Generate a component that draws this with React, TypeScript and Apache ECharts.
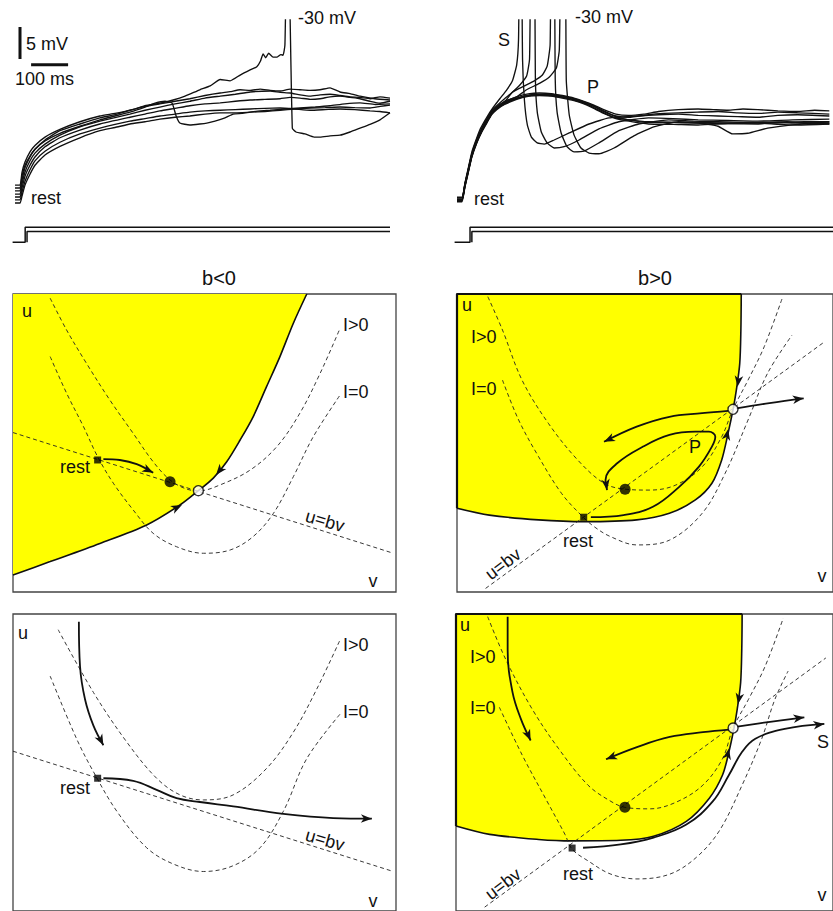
import React, { useEffect, useRef } from "react";
import * as echarts from "echarts";

// ===================== TOP TRACES (time ms, membrane potential mV) =====================
// Left: b<0 (integrator)
const leftTrace1 = [[-13.5,-55.8],[0,-55.8],[5.4,-53.8],[13.5,-52.2],[27,-50.6],[40.5,-49.6],[67.6,-48.3],[108,-47.1],[162,-45.9],[216,-45.0],[257,-44.6],[305,-44.0],[338,-43.4],[378,-43.0],[414,-42.5],[446,-41.9],[486,-40.9],[514,-40.3],[541,-39.3],[568,-39.5],[595,-38.6],[622,-37.8],[640,-37.3],[650,-36.4],[657,-35.3],[664,-35.9],[672,-35.2],[684,-35.8],[695,-35.8],[705,-35.4],[711,-35.5],[716,-33.9],[721,-20],[726,-20],[736,-46.9],[746,-47.5],[770,-47.8],[795,-48.3],[811,-48.3],[838,-48.1],[865,-48.0],[892,-47.5],[919,-46.9],[946,-46.3],[973,-45.6],[1000,-44.5]];
const leftTrace2 = [[-13.5,-56.25],[0,-56.25],[5.4,-54.4],[13.5,-52.7],[27,-51.25],[40.5,-50.2],[67.6,-48.9],[108,-47.7],[162,-46.6],[216,-45.6],[257,-45.0],[297,-44.4],[338,-43.6],[365,-43.0],[392,-42.7],[411,-43.0],[422,-45.0],[432,-46.1],[459,-46.4],[486,-46.25],[505,-46.1],[527,-45.8],[554,-45.3],[576,-44.7],[600,-44.6],[622,-44.4],[649,-44.2],[676,-44.1],[716,-43.9],[757,-43.75],[798,-43.6],[838,-43.4],[878,-43.1],[919,-42.95],[960,-43.2],[1000,-43.1]];
const leftTrace3 = [[-13.5,-56.7],[0,-56.7],[5.4,-55.0],[13.5,-53.1],[27,-51.4],[40.5,-50.2],[67.6,-48.75],[108,-47.3],[162,-46.25],[216,-45.3],[257,-44.8],[297,-44.1],[338,-43.5],[378,-43.1],[419,-42.7],[459,-42.3],[500,-41.8],[541,-41.4],[568,-41.2],[595,-40.9],[622,-41.0],[649,-40.8],[676,-41.0],[703,-41.1],[730,-40.8],[757,-40.9],[784,-41.0],[811,-40.9],[838,-40.6],[865,-41.25],[892,-41.5],[919,-41.9],[959,-42.3],[1000,-42.5]];
const leftTrace4 = [[-13.5,-57.2],[0,-57.2],[5.4,-55.6],[13.5,-53.75],[27,-52.0],[40.5,-50.8],[67.6,-49.4],[108,-48.0],[162,-46.7],[216,-45.8],[297,-44.7],[338,-44.1],[378,-43.6],[419,-43.1],[459,-42.7],[500,-42.2],[541,-41.9],[582,-41.6],[622,-41.25],[676,-41.1],[703,-41.3],[730,-41.4],[757,-41.7],[784,-41.9],[811,-41.7],[838,-41.6],[865,-41.8],[892,-42.0],[919,-42.1],[946,-42.3],[973,-42.0],[1000,-42.2]];
const leftTrace5 = [[-13.5,-57.65],[0,-57.65],[5.4,-56.25],[13.5,-54.4],[27,-52.7],[40.5,-51.4],[67.6,-49.8],[108,-48.4],[162,-47.2],[216,-46.25],[297,-45.2],[338,-44.7],[378,-44.2],[419,-43.8],[459,-43.4],[500,-43.1],[541,-42.95],[582,-42.7],[622,-42.5],[662,-42.4],[703,-42.3],[730,-42.1],[757,-42.2],[784,-42.4],[811,-42.3],[838,-42.0],[865,-41.9],[892,-42.1],[919,-42.3],[946,-42.7],[973,-43.0],[1000,-42.7]];
const leftTrace6 = [[-13.5,-58.1],[0,-58.1],[5.4,-56.9],[13.5,-55.2],[27,-53.4],[40.5,-52.0],[67.6,-50.5],[108,-49.1],[162,-47.8],[216,-46.9],[257,-46.3],[297,-45.8],[338,-45.4],[378,-45.0],[419,-44.7],[459,-44.4],[500,-44.2],[541,-44.1],[582,-44.0],[622,-43.9],[662,-43.8],[703,-43.75],[743,-43.9],[784,-44.1],[825,-44.0],[865,-43.9],[905,-44.0],[946,-44.2],[973,-44.3],[1000,-44.5]];
const leftTrace7 = [[-13.5,-58.6],[0,-58.6],[5.4,-57.5],[13.5,-55.8],[27,-54.1],[40.5,-52.7],[67.6,-51.1],[108,-49.75],[162,-48.4],[216,-47.3],[257,-46.8],[297,-46.25],[338,-45.9],[378,-45.5],[419,-45.2],[459,-45.0],[500,-44.7],[541,-44.5],[582,-44.5],[622,-44.4],[662,-44.3],[703,-44.1],[743,-43.9],[784,-43.75],[825,-43.7],[865,-43.6],[905,-43.7],[946,-43.75],[973,-43.5],[1000,-43.3]];

// Right: b>0 (resonator)
const rightSpike1 = [[-13.5,-58.1],[0,-58.1],[8.1,-55.5],[16.2,-53.4],[27,-50.6],[40.5,-48.4],[51,-46.9],[67.6,-45.2],[84,-43.75],[103,-42.3],[122,-40.9],[138,-39.4],[149,-37.0],[154,-33.1],[157,-20],[162,-20],[165,-36.25],[170,-42.5],[178,-46.4],[189,-48.3],[205,-49.2],[224,-49.4],[251,-48.75],[292,-47.65],[346,-46.25],[400,-45.3],[481,-45.0],[535,-44.8],[589,-44.7],[643,-44.9],[697,-45.0],[751,-45.1],[805,-45.2],[860,-44.9],[914,-44.8],[1000,-45.0]];
const rightSpike2 = [[-13.5,-58.0],[0,-58.0],[8.1,-55.6],[16.2,-53.6],[27,-50.9],[40.5,-48.6],[54,-46.9],[67.6,-45.5],[81,-44.2],[94.6,-43.4],[116,-42.3],[138,-41.25],[157,-40.2],[176,-38.75],[184,-36.1],[188,-20],[197,-20],[200,-39.4],[205,-44.4],[216,-47.5],[232,-49.2],[251,-50.0],[278,-49.8],[319,-48.75],[373,-47.0],[427,-45.9],[508,-45.3],[575,-45.4],[643,-45.6],[724,-45.7],[805,-45.8],[900,-45.6],[1000,-45.5]];
const rightSpike3 = [[-13.5,-58.2],[0,-58.2],[8.1,-55.9],[16.2,-53.9],[27,-51.25],[40.5,-49.0],[54,-47.3],[67.6,-45.9],[81,-44.6],[94.6,-43.75],[116,-42.8],[138,-41.25],[170,-40.3],[197,-39.5],[219,-38.6],[232,-37.2],[240,-33.9],[243,-20],[251,-20],[254,-39.4],[259,-44.4],[270,-47.65],[286,-49.8],[305,-50.6],[332,-50.5],[373,-49.2],[427,-47.3],[481,-46.25],[562,-45.6],[630,-45.8],[697,-45.9],[780,-46.0],[859,-46.1],[930,-45.9],[1000,-45.9]];
const rightSpike4 = [[-13.5,-58.0],[0,-58.0],[8.1,-55.7],[16.2,-53.7],[27,-51.0],[40.5,-48.8],[54,-47.1],[67.6,-45.6],[81,-44.4],[94.6,-43.6],[116,-42.7],[149,-42.0],[176,-40.9],[211,-39.9],[238,-38.9],[257,-37.5],[265,-34.7],[270,-20],[281,-20],[284,-39.4],[292,-44.8],[305,-47.95],[324,-50.0],[346,-50.8],[373,-50.9],[414,-50.0],[468,-48.1],[522,-46.7],[589,-45.9],[660,-46.0],[724,-46.1],[805,-46.0],[886,-45.9],[950,-46.1],[1000,-46.25]];
const rightSub1 = [[-13.5,-57.7],[0,-57.7],[8.1,-55.7],[16.2,-53.6],[27,-51.0],[40.5,-48.8],[54,-47.1],[67.6,-45.7],[81,-44.4],[94.6,-43.6],[116,-42.8],[149,-42.0],[184,-41.5],[211,-41.4],[243,-41.5],[273,-41.8],[305,-42.2],[332,-42.7],[359,-43.3],[386,-44.0],[419,-44.7],[454,-44.9],[495,-44.7],[535,-44.3],[589,-44.0],[643,-43.9],[684,-44.0],[724,-44.1],[765,-43.9],[805,-44.0],[860,-44.2],[914,-44.3],[960,-44.1],[1000,-44.2]];
const rightSub2 = [[-13.5,-58.1],[0,-58.1],[8.1,-55.9],[16.2,-53.8],[27,-51.2],[40.5,-49.0],[54,-47.3],[67.6,-45.9],[81,-44.6],[94.6,-43.8],[116,-43.0],[149,-42.3],[184,-41.8],[211,-41.7],[243,-41.8],[273,-42.0],[305,-42.4],[332,-42.9],[359,-43.5],[386,-44.3],[419,-45.0],[454,-45.2],[508,-44.8],[550,-44.6],[589,-44.5],[640,-44.4],[697,-44.3],[750,-44.5],[805,-44.6],[860,-44.4],[914,-44.5],[1000,-44.7]];
const rightSub3 = [[-13.5,-58.2],[0,-58.2],[8.1,-56.0],[16.2,-54.0],[27,-51.3],[40.5,-49.1],[54,-47.4],[67.6,-46.0],[81,-44.7],[94.6,-43.9],[116,-43.1],[149,-42.3],[184,-41.8],[211,-41.7],[243,-41.8],[273,-42.1],[305,-42.5],[332,-43.0],[359,-43.7],[386,-44.5],[419,-45.3],[454,-45.6],[508,-45.9],[575,-46.0],[643,-46.1],[724,-46.2],[805,-46.25],[860,-46.0],[914,-46.1],[1000,-46.1]];
const rightSub4 = [[-13.5,-58.0],[0,-58.0],[8.1,-55.8],[16.2,-53.8],[27,-51.1],[40.5,-48.9],[54,-47.2],[67.6,-45.8],[81,-44.5],[94.6,-43.7],[116,-42.9],[149,-42.2],[184,-41.7],[211,-41.6],[243,-41.6],[273,-41.9],[305,-42.3],[332,-42.8],[359,-43.4],[386,-44.2],[419,-45.1],[454,-45.6],[508,-46.0],[575,-46.0],[643,-46.1],[697,-46.6],[737,-47.8],[778,-47.7],[832,-46.9],[914,-46.3],[1000,-45.9]];
const rightSub5 = [[-13.5,-58.4],[0,-58.4],[8.1,-56.1],[16.2,-54.1],[27,-51.4],[40.5,-49.2],[54,-47.5],[67.6,-46.1],[81,-44.8],[94.6,-44.0],[116,-43.2],[149,-42.4],[184,-41.9],[211,-41.8],[243,-41.9],[273,-42.2],[305,-42.6],[332,-43.1],[359,-43.8],[386,-44.6],[419,-45.4],[454,-45.8],[508,-46.25],[575,-46.3],[643,-46.4],[724,-46.2],[805,-46.1],[860,-46.3],[914,-46.4],[1000,-46.25]];

// scale bars (ms, mV)
const scaleBar5mV = [[0,-31.1],[0,-36.1]];
const scaleBar100ms = [[30,-37.0],[130,-37.0]];

// injected current steps (ms, normalised current)
const leftStepOuter = [[-20,0],[14,0],[14,1],[1000,1]];
const leftStepInner = [[19,0],[19,0.72],[1000,0.72]];
const rightStepOuter = [[-20,0],[22,0],[22,1],[1010,1]];
const rightStepInner = [[27,0],[27,0.72],[1010,0.72]];

// ===================== PHASE PLANES (v, u in normalised units 0..100) =====================
// Panel A: b<0, I>0 (top left)
const aBoundary = [[0,5.7],[9.7,10.2],[22.7,16.3],[34.9,22.5],[43.6,29.2],[48.4,34.0],[52.3,38.2],[55.8,43.7],[59.3,51.0],[62.7,58.8],[66.2,68.9],[69.7,79.0],[73.2,90.2],[76.7,100]];
const aNullIpos = [[9.7,98.6],[14.0,87.9],[19.2,76.7],[25.3,64.4],[31.4,53.2],[36.6,43.7],[41.0,37.6],[45.4,34.5],[48.8,34.0],[54.0,35.9],[61.9,40.9],[68.9,48.8],[74.9,60.0],[80.2,73.4],[85.4,88.5]];
const aNullI0 = [[9.7,79.0],[14.0,66.7],[18.4,55.5],[22.1,45.4],[26.2,36.5],[31.4,27.5],[36.6,19.7],[42.7,15.2],[49.7,13.0],[56.7,14.1],[62.7,18.6],[68.0,26.4],[73.2,38.7],[78.4,52.1],[85.4,66.1]];
const aUbv = [[0,53.5],[99.3,13.0]];
const aRestTraj = [[23.6,44.6],[27.9,44.3],[32.3,42.9],[36.6,40.0]];
const aRest = [22.1,44.3];
const aNode = [41.0,37.0];
const aSaddle = [48.4,34.0];
const aManifoldArrows = [[55.8,43.7,53.0,39.3],[41.0,27.2,44.1,29.2]];

// Panel B: b>0, I>0 (top right)
const bBoundary = [[0,28.1],[8.6,25.8],[21.7,24.2],[33.9,23.6],[47.8,24.2],[56.5,26.4],[63.4,30.9],[67.8,36.5],[70.4,44.3],[72.1,53.3],[73.4,61.1],[74.3,67.8],[75.2,76.7],[75.5,87.9],[75.6,100]];
const bEdge = [[0,28.1],[0,100],[75.6,100]];
const bNullIpos = [[8.2,99.1],[12.1,87.9],[17.3,71.1],[24.3,56.6],[32.1,44.3],[39.1,36.5],[44.7,34.5],[51.3,34.2],[58.2,35.9],[65.2,42.0],[70.4,52.1],[73.4,61.3],[77.4,71.1],[81.7,82.3],[86.5,98.6]];
const bNullI0 = [[12.1,71.1],[16.4,57.7],[21.7,45.4],[27.8,33.1],[33.0,25.8],[36.5,21.9],[40.8,18.6],[47.8,15.8],[56.5,17.4],[65.2,26.4],[71.3,39.8],[77.4,57.7],[82.6,73.4],[89.1,86.2]];
const bUbv = [[7.6,1.2],[97.8,84.0]];
const bRest = [33.7,25.1];
const bNode = [44.7,34.5];
const bSaddle = [73.4,61.3];
const bUnstableRight = [[74.3,61.6],[83.1,63.4],[92.2,65.0]];
const bUnstableLeft = [[72.1,60.8],[65.2,60.0],[56.5,58.8],[47.8,55.5],[39.1,50.4]];
const bPTraj = [[35.6,25.1],[44.3,25.8],[52.1,28.6],[59.1,35.3],[64.3,42.0],[67.8,48.8],[68.7,52.1],[67.0,53.8],[63.4,53.8],[56.5,52.7],[49.5,48.8],[42.6,43.2],[39.5,37.6],[39.9,34.2]];
const bManifoldArrows = [[75.2,74.5,74.6,68.9],[71.0,47.7,72.1,54.6]];

// Panel C: b<0, larger I (bottom left)
const cNullIpos = [[11.8,94.7],[21.0,73.6],[29.7,56.9],[37.5,44.7],[43.6,39.1],[49.7,37.4],[57.5,39.1],[66.2,48.0],[73.2,60.2],[79.3,74.7],[85.4,91.3]];
const cNullI0 = [[9.7,79.1],[16.6,58.0],[21.0,46.9],[27.1,33.6],[34.9,21.3],[41.9,15.8],[49.7,13.3],[57.4,15.2],[64.5,21.3],[70.6,33.6],[76.7,51.3],[85.4,66.3]];
const cUbv = [[0,53.8],[99.3,13.3]];
const cRest = [22.1,44.7];
const cTopTraj = [[17.2,97.4],[17.5,82.4],[18.8,71.3],[21.0,62.4],[23.6,55.8]];
const cRestTraj = [[23.6,44.7],[31.4,43.8],[37.5,40.8],[42.7,38.0],[48.8,36.7],[57.5,35.2],[70.6,32.7],[83.6,31.3],[93.7,31.1]];

// Panel D: b>0, larger I (bottom right)
const dBoundary = [[0,28.6],[8.9,25.8],[21.9,24.1],[30.6,23.6],[43.7,23.8],[52.4,25.2],[61.1,30.2],[67.2,38.0],[70.7,45.8],[72.4,53.6],[73.7,61.3],[74.6,68.0],[75.5,76.9],[75.8,88.0],[75.9,100]];
const dEdge = [[0,28.6],[0,100],[75.9,100]];
const dNullIpos = [[8.4,99.1],[13.2,84.7],[20.2,68.0],[27.2,54.7],[35.0,42.4],[41.1,36.9],[44.8,34.9],[51.5,34.4],[58.5,36.7],[65.5,42.4],[70.7,51.3],[73.5,61.6],[77.6,71.3],[82.0,82.4],[86.8,98.6]];
const dNullI0 = [[11.5,68.6],[17.6,52.4],[23.7,38.0],[28.9,25.8],[30.8,20.8],[35.0,16.9],[41.1,12.4],[48.0,10.8],[56.7,12.4],[63.7,18.0],[69.8,26.9],[75.9,42.4],[81.1,58.0],[84.6,71.3],[88.1,80.8]];
const dUbv = [[7.6,1.3],[98.1,85.2]];
const dRest = [30.8,21.2];
const dNode = [44.8,34.9];
const dSaddle = [73.5,61.6];
const dTopTraj = [[13.7,99.1],[13.7,88.0],[15.0,73.6],[17.2,64.7],[19.8,57.4]];
const dUnstableLeft = [[72.4,61.1],[65.5,60.2],[56.7,58.6],[48.0,55.2],[39.8,51.1]];
const dUnstableRight = [[74.6,62.1],[83.3,63.7],[92.4,65.2]];
const dSTraj = [[33.7,21.3],[43.7,22.4],[52.4,24.7],[61.1,29.1],[68.1,36.9],[72.4,45.8],[75.9,53.6],[79.4,58.0],[87.2,61.3],[97.7,63.0]];
const dManifoldArrows = [[75.5,74.7,74.8,69.7],[71.3,48.0,72.4,54.7]];

// ===================== STYLES =====================
const FONT = '"Liberation Sans", Arial, Helvetica, sans-serif';
const INK = "#111";
const YELLOW = "#ffff00";

const lastSeg = (arr: number[][]) => [...arr[arr.length - 2], ...arr[arr.length - 1]];

function buildOption() {
  const border = { show: true, borderColor: "#444", borderWidth: 1.3, backgroundColor: "transparent" };
  const grid = [
    { left: 12.6, top: 20, width: 381.1, height: 192 },
    { left: 454.6, top: 20, width: 381.1, height: 192 },
    { left: 12.6, top: 222, width: 381.1, height: 24 },
    { left: 454.6, top: 222, width: 381.1, height: 24 },
    { left: 13, top: 294, width: 383, height: 298, ...border },
    { left: 457, top: 294, width: 383, height: 298, ...border },
    { left: 13, top: 614, width: 383, height: 300, ...border },
    { left: 456, top: 614, width: 383, height: 300, ...border },
  ];
  const hidden = { show: false, splitLine: { show: false } };
  const xAxis = grid.map((_, i) =>
    i < 4 ? { type: "value", gridIndex: i, min: -20, max: 1010, ...hidden } : { type: "value", gridIndex: i, min: 0, max: 100, ...hidden }
  );
  const yAxis = grid.map((_, i) =>
    i < 2
      ? { type: "value", gridIndex: i, min: -60, max: -30, ...hidden }
      : i < 4
      ? { type: "value", gridIndex: i, min: -0.25, max: 1.35, ...hidden }
      : { type: "value", gridIndex: i, min: 0, max: 100, ...hidden }
  );

  const series: any[] = [];
  const line = (gi: number, data: number[][], style: any, extra: any = {}) =>
    series.push({
      type: "line", xAxisIndex: gi, yAxisIndex: gi, data, symbol: "none", silent: true,
      lineStyle: style, ...extra,
    });
  const trace = (gi: number, data: number[][]) => line(gi, data, { color: INK, width: 1.35 }, { smooth: 0.15, z: 3 });
  const dashed = (gi: number, data: number[][]) => line(gi, data, { color: "#222", width: 0.9, type: [4, 3] }, { smooth: 0.35, z: 2 });
  const solid = (gi: number, data: number[][]) => line(gi, data, { color: INK, width: 1.8 }, { smooth: 0.4, z: 4 });
  const yellow = (gi: number, data: number[][]) =>
    line(gi, data, { color: INK, width: 1.6 }, { smooth: 0.3, z: 1, areaStyle: { color: YELLOW, opacity: 1, origin: "end" } });
  const edge = (gi: number, data: number[][]) => line(gi, data, { color: INK, width: 2.2 }, { z: 3 });
  const arrows = (gi: number, data: number[][]) =>
    series.push({
      type: "custom", xAxisIndex: gi, yAxisIndex: gi, data, silent: true, z: 5,
      encode: { x: [0, 2], y: [1, 3] },
      renderItem: (_p: any, api: any) => {
        const p1 = api.coord([api.value(0), api.value(1)]);
        const p2 = api.coord([api.value(2), api.value(3)]);
        const a = Math.atan2(p2[1] - p1[1], p2[0] - p1[0]);
        const c = Math.cos(a), s = Math.sin(a);
        const L = 11, W = 4.3;
        const bx = p2[0] - L * c, by = p2[1] - L * s;
        return {
          type: "polygon",
          shape: { points: [p2, [bx - W * s, by + W * c], [p2[0] - 0.72 * L * c, p2[1] - 0.72 * L * s], [bx + W * s, by - W * c]] },
          style: { fill: INK },
        };
      },
    });
  const point = (gi: number, p: number[], kind: "node" | "saddle" | "rest") =>
    series.push({
      type: "scatter", xAxisIndex: gi, yAxisIndex: gi, data: [p], silent: true, z: 6,
      symbol: kind === "rest" ? "rect" : "circle",
      symbolSize: kind === "node" ? 11 : kind === "saddle" ? 10 : 7,
      itemStyle: kind === "saddle" ? { color: "#fff", borderColor: "#000", borderWidth: 1.4 } : { color: "#000" },
    });

  // top traces
  [leftTrace1, leftTrace2, leftTrace3, leftTrace4, leftTrace5, leftTrace6, leftTrace7].forEach((t) => trace(0, t));
  [rightSub1, rightSub2, rightSub3, rightSub4, rightSub5, rightSpike1, rightSpike2, rightSpike3, rightSpike4].forEach((t) => trace(1, t));
  line(0, scaleBar5mV, { color: INK, width: 3 }, { z: 3 });
  line(0, scaleBar100ms, { color: INK, width: 3 }, { z: 3 });
  line(2, leftStepOuter, { color: INK, width: 1.5 });
  line(2, leftStepInner, { color: INK, width: 1.5 });
  line(3, rightStepOuter, { color: INK, width: 1.5 });
  line(3, rightStepInner, { color: INK, width: 1.5 });

  // Panel A
  yellow(4, aBoundary);
  dashed(4, aNullIpos); dashed(4, aNullI0);
  line(4, aUbv, { color: "#222", width: 0.9, type: [4, 3] }, { z: 2 });
  solid(4, aRestTraj);
  arrows(4, [lastSeg(aRestTraj), ...aManifoldArrows]);
  point(4, aNode, "node"); point(4, aSaddle, "saddle"); point(4, aRest, "rest");

  // Panel B
  yellow(5, bBoundary); edge(5, bEdge);
  dashed(5, bNullIpos); dashed(5, bNullI0);
  line(5, bUbv, { color: "#222", width: 0.9, type: [4, 3] }, { z: 2 });
  solid(5, bUnstableRight); solid(5, bUnstableLeft); solid(5, bPTraj);
  arrows(5, [lastSeg(bUnstableRight), lastSeg(bUnstableLeft), lastSeg(bPTraj), ...bManifoldArrows]);
  point(5, bNode, "node"); point(5, bSaddle, "saddle"); point(5, bRest, "rest");

  // Panel C
  dashed(6, cNullIpos); dashed(6, cNullI0);
  line(6, cUbv, { color: "#222", width: 0.9, type: [4, 3] }, { z: 2 });
  solid(6, cTopTraj); solid(6, cRestTraj);
  arrows(6, [lastSeg(cTopTraj), lastSeg(cRestTraj)]);
  point(6, cRest, "rest");

  // Panel D
  yellow(7, dBoundary); edge(7, dEdge);
  dashed(7, dNullIpos); dashed(7, dNullI0);
  line(7, dUbv, { color: "#222", width: 0.9, type: [4, 3] }, { z: 2 });
  solid(7, dTopTraj); solid(7, dUnstableLeft); solid(7, dUnstableRight); solid(7, dSTraj);
  arrows(7, [lastSeg(dTopTraj), lastSeg(dUnstableLeft), lastSeg(dUnstableRight), lastSeg(dSTraj), ...dManifoldArrows]);
  point(7, dNode, "node"); point(7, dSaddle, "saddle"); point(7, dRest, "rest");

  const txt = (text: string, x: number, y: number, align = "left", size = 18, rotation = 0) => ({
    type: "text", x, y, rotation, z: 100, silent: true,
    style: { text, fill: INK, font: `${size}px ${FONT}`, textAlign: align, align, textVerticalAlign: "middle", verticalAlign: "middle" },
  });
  const graphic = [
    txt("5 mV", 26, 44), txt("100 ms", 15, 79), txt("-30 mV", 298, 18), txt("rest", 31, 198),
    txt("-30 mV", 575, 17), txt("S", 504, 40, "center"), txt("P", 593, 87, "center"), txt("rest", 474, 199),
    txt("b<0", 219, 278, "center", 20), txt("b>0", 655, 278, "center", 20),
    // A
    txt("u", 27, 311, "center"), txt("I>0", 343, 325), txt("I=0", 343, 392), txt("rest", 90, 467, "right"),
    txt("u=bv", 325, 521, "center", 18, -0.28), txt("v", 373, 581, "center"),
    // B
    txt("u", 467, 305, "center"), txt("I>0", 471, 337), txt("I=0", 471, 389), txt("P", 695, 447, "center"),
    txt("rest", 578, 541, "center"), txt("u=bv", 503, 564, "center", 18, 0.65), txt("v", 822, 576, "center"),
    // C
    txt("u", 23, 633, "center"), txt("I>0", 343, 645), txt("I=0", 343, 712), txt("rest", 90, 788, "right"),
    txt("u=bv", 325, 840, "center", 18, -0.28), txt("v", 373, 901, "center"),
    // D
    txt("u", 465, 625, "center"), txt("I>0", 470, 657), txt("I=0", 470, 708), txt("S", 823, 742, "center"),
    txt("rest", 578, 874, "center"), txt("u=bv", 503, 884, "center", 18, 0.65), txt("v", 822, 895, "center"),
  ];

  return { animation: false, backgroundColor: "#fff", grid, xAxis, yAxis, series, graphic };
}

export default function App() {
  const ref = useRef<HTMLDivElement>(null);
  useEffect(() => {
    const chart = echarts.init(ref.current!, null, { renderer: "svg" });
    chart.setOption(buildOption() as any);
    return () => chart.dispose();
  }, []);
  return <div ref={ref} style={{ position: "absolute", left: 0, top: 0, width: 833, height: 911 }} />;
}
